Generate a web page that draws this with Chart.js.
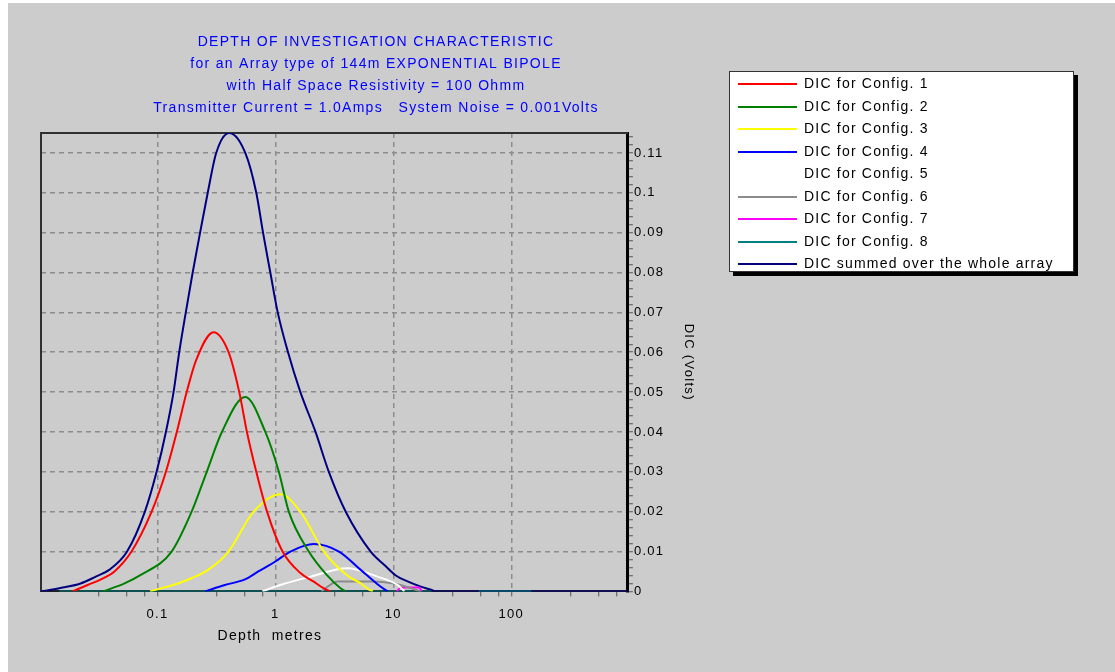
<!DOCTYPE html>
<html>
<head>
<meta charset="utf-8">
<script src="https://cdn.jsdelivr.net/npm/chart.js@4.4.1/dist/chart.umd.min.js"></script>
<style>
  html, body { margin: 0; padding: 0; background: #ffffff; }
  #page { position: absolute; left: 8px; top: 3px; width: 1107px; height: 669px; background: #cccccc; }
  #plot { position: absolute; left: 0; top: 0; }
  #legend {
    position: absolute; left: 729px; top: 71px; width: 343px; height: 199px;
    background: #ffffff; border: 1px solid #333333; box-shadow: 4px 4px 0 #000000;
    font-family: "Liberation Sans", Arial, sans-serif; font-size: 14px; letter-spacing: 1.2px; color: #000;
  }
  .row { position: absolute; left: 0; height: 22px; width: 100%; }
  .row .swatch { position: absolute; left: 8px; top: 10px; width: 59px; height: 2px; }
  .row .label { position: absolute; left: 74px; top: 2px; white-space: nowrap; }
</style>
</head>
<body>
<div id="page"></div>
<canvas id="plot" width="740" height="672"></canvas>
<div id="legend"></div>
<script>
const titleLines = [
  "DEPTH OF INVESTIGATION CHARACTERISTIC",
  "for an Array type of 144m EXPONENTIAL BIPOLE",
  "with Half Space Resistivity = 100 Ohmm",
  "Transmitter Current = 1.0Amps   System Noise = 0.001Volts",
];
const xAxisTitle = "Depth  metres";
const yAxisTitle = "DIC (Volts)";

const seriesLabels = [
  "DIC for Config. 1",
  "DIC for Config. 2",
  "DIC for Config. 3",
  "DIC for Config. 4",
  "DIC for Config. 5",
  "DIC for Config. 6",
  "DIC for Config. 7",
  "DIC for Config. 8",
  "DIC summed over the whole array",
];
const seriesColors = ["#ff0000", "#008000", "#ffff00", "#0000ff", "#ffffff", "#8c8c8c", "#ff00ff", "#008080", "#000080"];

const xTickLabels = [0.1, 1, 10, 100];
const xMinorSteps = [3.2, 5.5, 7.8];
const yTickLabels = [0, 0.01, 0.02, 0.03, 0.04, 0.05, 0.06, 0.07, 0.08, 0.09, 0.1, 0.11];
const yMinorStep = 0.002;

// depth (m) / DIC (V) pairs
const cfg1Depth = [0.0191, 0.0256, 0.0332, 0.0432, 0.0603, 0.0893, 0.118, 0.146, 0.177, 0.213, 0.299, 0.401, 0.494, 0.574, 0.689, 0.85, 1.15, 1.63, 2.1, 2.56, 2.93];
const cfg1Dic = [0, 0.0016, 0.003, 0.005, 0.01, 0.02, 0.03, 0.04, 0.05, 0.058, 0.065, 0.06, 0.05, 0.04, 0.03, 0.02, 0.01, 0.0046, 0.0025, 0.0008, 0];

const cfg2Depth = [0.0346, 0.0526, 0.071, 0.132, 0.195, 0.262, 0.352, 0.556, 0.822, 1.07, 1.3, 1.92, 2.75, 3.57, 3.94];
const cfg2Dic = [0, 0.002, 0.004, 0.01, 0.02, 0.03, 0.04, 0.0488, 0.04, 0.03, 0.02, 0.01, 0.004, 0.0008, 0];

const cfg3Depth = [0.0865, 0.149, 0.194, 0.269, 0.401, 0.654, 1.1, 1.63, 2.58, 4.07, 5.29, 6.19, 6.7];
const cfg3Dic = [0, 0.002, 0.0033, 0.0054, 0.01, 0.02, 0.0244, 0.02, 0.01, 0.004, 0.002, 0.0005, 0];

const cfg4Depth = [0.254, 0.373, 0.552, 0.717, 1.0, 1.34, 2.12, 3.46, 5.29, 7.34, 8.93];
const cfg4Dic = [0, 0.0016, 0.003, 0.005, 0.0075, 0.01, 0.0119, 0.01, 0.0054, 0.0018, 0];

const cfg5Depth = [0.775, 1.1, 1.99, 4.07, 7.34, 10.9, 12.4];
const cfg5Dic = [0, 0.0016, 0.0037, 0.0058, 0.0037, 0.0016, 0];

const cfg6Depth = [2.46, 3.37, 6.43, 10.1, 17.1];
const cfg6Dic = [0, 0.0025, 0.0025, 0.002, 0];

const cfg7Depth = [10.7, 11.6, 16.5, 17.5];
const cfg7Dic = [0, 0.001, 0.001, 0];

const cfg8Depth = [0.0147, 21, 35, 53, 148];
const cfg8Dic = [0, 0, null, 0, 0];

const sumDepth = [0.0103, 0.0147, 0.0223, 0.03, 0.039, 0.0553, 0.0783, 0.0984, 0.118, 0.137, 0.153, 0.174, 0.199, 0.23, 0.267, 0.315, 0.406,
  0.556, 0.689, 0.786, 0.906, 1.047, 1.28, 1.63, 2.19, 2.84, 3.95, 6.43, 8.5, 10.5, 13.2, 17.1, 20.9, 22.9, 975];
const sumDic = [0, 0.0008, 0.002, 0.0037, 0.0054, 0.01, 0.02, 0.03, 0.04, 0.05, 0.06, 0.07, 0.08, 0.09, 0.1, 0.11, 0.115,
  0.11, 0.1, 0.09, 0.08, 0.07, 0.06, 0.05, 0.04, 0.03, 0.02, 0.01, 0.0065, 0.004, 0.0025, 0.0012, 0.0004, 0, 0];

const xMin = 0.0103;
const xMax = 975;
const yMax = 0.115;
const xTitleAt = 0.9;

const seriesData = [
  [cfg1Depth, cfg1Dic], [cfg2Depth, cfg2Dic], [cfg3Depth, cfg3Dic], [cfg4Depth, cfg4Dic],
  [cfg5Depth, cfg5Dic], [cfg6Depth, cfg6Dic], [cfg7Depth, cfg7Dic], [cfg8Depth, cfg8Dic], [sumDepth, sumDic],
];

function toPoints(depths, values) {
  return depths.map((d, i) => ({ x: d, y: values[i] }));
}

const datasets = seriesData.map((s, i) => ({
  label: seriesLabels[i],
  data: toPoints(s[0], s[1]),
  borderColor: seriesColors[i],
  backgroundColor: seriesColors[i],
  fill: false,
}));

// html legend
const legendEl = document.getElementById("legend");
seriesLabels.forEach((lbl, i) => {
  const row = document.createElement("div");
  row.className = "row";
  row.style.top = (1 + i * 22.5) + "px";
  row.innerHTML = '<div class="swatch" style="background:' + seriesColors[i] + '"></div><div class="label"></div>';
  row.querySelector(".label").textContent = lbl;
  legendEl.appendChild(row);
});

const isMajorX = (v) => xTickLabels.some((t) => Math.abs(v / t - 1) < 1e-6);
const isMajorY = (v) => yTickLabels.some((t) => Math.abs(v - t) < 1e-7);

const spacing = {
  id: "spacing",
  beforeUpdate(chart) { chart.ctx.letterSpacing = "1.3px"; },
  beforeDraw(chart) { chart.ctx.letterSpacing = "1.3px"; },
};

const frame = {
  id: "frame",
  beforeDatasetsDraw(chart) {
    const { ctx, chartArea: a } = chart;
    ctx.save();
    ctx.strokeStyle = "#303030";
    ctx.lineWidth = 2;
    ctx.beginPath();
    ctx.moveTo(a.left, a.bottom);
    ctx.lineTo(a.left, a.top);
    ctx.lineTo(a.right, a.top);
    ctx.stroke();
    ctx.restore();
  },
  afterDraw(chart) {
    const { ctx, chartArea: a } = chart;
    ctx.save();
    ctx.font = "14px 'Liberation Sans', Arial, sans-serif";
    ctx.fillStyle = "#000";
    ctx.textAlign = "center";
    ctx.textBaseline = "middle";
    ctx.fillText(xAxisTitle, chart.scales.x.getPixelForValue(xTitleAt), a.bottom + 45);
    ctx.restore();
  },
};

Chart.defaults.font.family = "'Liberation Sans', Arial, sans-serif";

new Chart(document.getElementById("plot"), {
  type: "line",
  data: { datasets },
  plugins: [spacing, frame],
  options: {
    responsive: false,
    animation: false,
    layout: { padding: { left: 41, right: 29, top: 31, bottom: 40 } },
    elements: {
      point: { radius: 0 },
      line: { borderWidth: 2, cubicInterpolationMode: "monotone" },
    },
    plugins: {
      legend: { display: false },
      tooltip: { enabled: false },
      title: {
        display: true,
        text: titleLines,
        color: "#0000ff",
        font: { size: 14, weight: "normal", lineHeight: "22px" },
        padding: { top: 0, bottom: 14 },
      },
    },
    scales: {
      x: {
        type: "logarithmic",
        min: xMin,
        max: xMax,
        bounds: "data",
        afterBuildTicks(axis) {
          const ticks = [];
          for (let e = -2; e <= 2; e++) {
            const base = Math.pow(10, e);
            [1].concat(xMinorSteps).forEach((m) => {
              const v = base * m;
              if (v >= xMin && v <= xMax) ticks.push({ value: v });
            });
          }
          axis.ticks = ticks;
        },
        ticks: {
          autoSkip: false,
          maxRotation: 0,
          padding: 10,
          color: "#000",
          font: { size: 13 },
          callback: (v) => (isMajorX(v) ? String(xTickLabels.find((t) => Math.abs(v / t - 1) < 1e-6)) : ""),
        },
        grid: {
          color: (c) => (c.tick && isMajorX(c.tick.value) ? "#8c8c8c" : "rgba(0,0,0,0)"),
          lineWidth: 1.5,
          tickColor: "#555",
          tickLength: 5,
          tickWidth: 1,
        },
        border: { color: "#202020", width: 2, dash: [5, 4] },
      },
      y: {
        position: "right",
        min: 0,
        max: yMax,
        afterBuildTicks(axis) {
          const ticks = [];
          for (let k = 0; k * yMinorStep <= yMax + 1e-9; k++) {
            ticks.push({ value: Math.round(k * yMinorStep * 1000) / 1000 });
          }
          axis.ticks = ticks;
        },
        ticks: {
          autoSkip: false,
          padding: 1,
          color: "#000",
          font: { size: 13 },
          callback: (v) => (isMajorY(v) ? String(Math.round(v * 100) / 100) : ""),
        },
        grid: {
          color: (c) => (c.tick && isMajorY(c.tick.value) && c.tick.value > 0 ? "#8c8c8c" : "rgba(0,0,0,0)"),
          lineWidth: 1.5,
          tickColor: "#555",
          tickLength: 5,
          tickWidth: 1,
        },
        border: { color: "#000", width: 3, dash: [5, 4] },
        title: {
          display: true,
          text: yAxisTitle,
          color: "#000",
          font: { size: 13 },
          padding: { top: 15, bottom: 15 },
        },
      },
    },
  },
});
</script>
</body>
</html>
